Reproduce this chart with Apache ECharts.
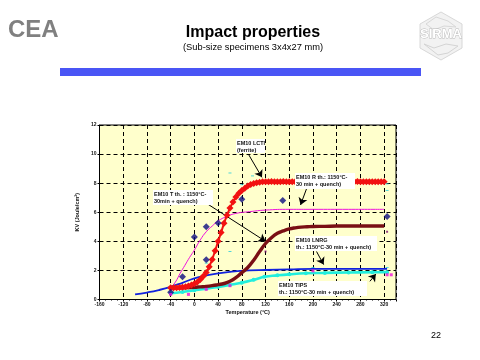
<!DOCTYPE html>
<html><head><meta charset="utf-8">
<style>html,body{margin:0;padding:0;background:#fff}#c{width:480px;height:360px}</style>
<script src="https://cdn.jsdelivr.net/npm/echarts@6/dist/echarts.min.js"></script>
</head><body><div id="c"></div>
<script>
const redT = [-40,-35,-30,-25,-20,-15,-10,-5,0,5,10,15,20,25,30,35,40,45,50,55,60,65,70,75,80,85,90,95,100,105,110,115,120,125,130,135,140,145,150,155,160,165,170,175,180,185,190,195,200,205,210,215,220,225,230,235,240,245,250,255,260,265,270,275,280,285,290,295,300,305,310,315,320];
const redV = [.8,.8,.8,.82,.85,.88,.92,1.0,1.08,1.2,1.38,1.6,1.85,2.25,2.75,3.35,4.0,4.6,5.25,5.8,6.3,6.7,7.05,7.3,7.5,7.65,7.8,7.9,7.98,8.03,8.07,8.1,8.1,8.1,8.12,8.1,8.1,8.1,8.12,8.1,8.1,8.1,8.1,8.1,8.1,8.1,8.1,8.1,8.1,8.1,8.1,8.1,8.1,8.1,8.1,8.1,8.1,8.1,8.1,8.1,8.1,8.1,8.1,8.12,8.1,8.1,8.1,8.1,8.1,8.1,8.1,8.1,8.1];
const maroonT = [-40,-30,-20,-10,0,10,20,30,40,50,60,70,80,90,100,110,120,130,140,150,160,170,180,190,200,220,240,260,280,300,320];
const maroonV = [.8,.8,.8,.82,.84,.87,.9,.95,1.02,1.1,1.25,1.5,1.85,2.2,2.7,3.3,3.85,4.25,4.55,4.72,4.85,4.93,4.98,5.0,5.02,5.03,5.05,5.05,5.05,5.05,5.05];
const magentaT = [-40,-32,-24,-16,-8,0,10,20,30,40,54,70,93,120,160,200,260,320];
const magentaV = [.8,1.2,1.8,2.35,2.9,3.4,4.1,4.66,5.05,5.4,5.7,5.92,6.04,6.15,6.2,6.2,6.2,6.2];
const blueT = [-100,-80,-60,-40,-20,0,20,40,60,93,120,160,200,260,325];
const blueV = [.35,.48,.65,.87,1.15,1.45,1.65,1.8,1.9,2.0,2.03,2.07,2.1,2.1,2.1];
const cyanT = [-40,-20,0,20,40,60,80,100,118,140,160,188,220,260,300,325];
const cyanV = [.43,.52,.64,.75,.87,1.0,1.15,1.35,1.56,1.66,1.73,1.8,1.83,1.86,1.87,1.88];
const navyT = [-40,-20,0,20,20,40,80,149,325];
const navyV = [.5,1.56,4.3,5.0,2.73,5.26,6.9,6.8,5.7];
const pinkT = [-40,-10,20,60,200,325,332];
const pinkV = [.35,.35,.7,.95,1.97,1.7,1.7];
const dashT = [60,60,20,80,98,325,325,200,325];
const dashV = [8.7,3.3,2.5,7.9,8.5,7.95,7.5,2.2,2.2];
const brownT = [120,325];
const brownV = [3.3,4.66];
const arrows = [
  [[91,10.0],[114,8.4]],
  [[189,7.6],[179,6.5]],
  [[21,6.6],[120,4.0]],
  [[206,3.3],[218,2.4]],
  [[296,1.25],[306,1.75]]
];
const noteLCTI = "EM10 LCTI\n(ferrite)";
const noteR = "EM10 R th.: 1150°C-\n30 min + quench)";
const noteT = "EM10 T th. : 1150°C-\n30min + quench)";
const noteLNRG = "EM10 LNRG\nth.: 1150°C-30 min + quench)";
const noteTIPS = "EM10 TIPS\nth.: 1150°C-30 min + quench)";
const zip = (a,b)=>a.map((x,i)=>[x,b[i]]);
const F = 'Liberation Sans';
const note = (x,y,w,h,t)=>[
  {type:'rect',z:100,silent:true,shape:{x,y,width:w,height:h},style:{fill:'#fff'}},
  {type:'text',z:101,silent:true,x:x+1,y:y+1,style:{text:t,font:'bold 5.5px "'+F+'"',fill:'#111',lineHeight:7}}
];
const chart = echarts.init(document.getElementById('c'),null,{renderer:'canvas'});
const hexPts=[[441,12],[462,24],[462,48],[441,60],[420,48],[420,24]];
chart.setOption({
  animation:false,
  backgroundColor:'#fff',
  grid:{left:99.5,right:84,top:125,bottom:60.5,show:true,backgroundColor:'#ffffcc',borderColor:'#000',borderWidth:1},
  xAxis:{type:'value',min:-160,max:340,interval:40,
    axisLine:{onZero:false,lineStyle:{color:'#000'}},
    axisTick:{length:2,lineStyle:{color:'#000'}},minorTick:{show:true,splitNumber:4,length:1,lineStyle:{color:'#000'}},
    axisLabel:{showMaxLabel:false,fontSize:5,fontWeight:'bold',color:'#111',margin:3,fontFamily:F},
    splitLine:{show:true,lineStyle:{color:'#000',type:[4,3],width:1}},minorSplitLine:{show:false},
    name:'Temperature (°C)',nameLocation:'middle',nameGap:10,nameTextStyle:{fontSize:5.5,fontWeight:'bold',color:'#111',fontFamily:F}},
  yAxis:{type:'value',min:0,max:12,interval:2,
    axisLine:{onZero:false,lineStyle:{color:'#000'}},
    axisTick:{length:2,lineStyle:{color:'#000'}},
    axisLabel:{fontSize:5,fontWeight:'bold',color:'#111',margin:3,fontFamily:F},
    splitLine:{show:true,lineStyle:{color:'#000',type:[4,3],width:1}},
    name:'KV (Joule/cm²)',nameLocation:'middle',nameGap:11,nameTextStyle:{fontSize:5.5,fontWeight:'bold',color:'#111',fontFamily:F}},
  series:[
    {type:'line',z:3,data:zip(magentaT,magentaV),smooth:true,showSymbol:false,lineStyle:{color:'#ee11dd',width:1}},
    {type:'line',z:4,data:zip(cyanT,cyanV),smooth:true,symbol:'emptyCircle',symbolSize:2,itemStyle:{color:'#22eedd'},lineStyle:{color:'#22eedd',width:2.6}},
    {type:'line',z:5,data:zip(blueT,blueV),smooth:true,showSymbol:false,lineStyle:{color:'#1122dd',width:1.8}},
    {type:'line',z:6,data:zip(maroonT,maroonV),smooth:true,showSymbol:false,lineStyle:{color:'#7a0f14',width:3.4}},
    {type:'line',z:7,data:zip(redT,redV),symbol:'diamond',symbolSize:7,itemStyle:{color:'#f21111'},lineStyle:{color:'#f21111',width:2}},
    {type:'scatter',z:8,data:zip(navyT,navyV),symbol:'diamond',symbolSize:7,itemStyle:{color:'#0c0c80'}},
    {type:'scatter',z:8,data:zip(pinkT,pinkV),symbol:'rect',symbolSize:3,itemStyle:{color:'#ee11dd'}},
    {type:'scatter',z:8,data:zip(dashT,dashV),symbol:'rect',symbolSize:[3,1],itemStyle:{color:'#22ccdd'}},
    {type:'scatter',z:8,data:zip(brownT,brownV),symbol:'rect',symbolSize:2,itemStyle:{color:'#7a0f70'}},
    {type:'line',z:200,data:[],markLine:{silent:true,animation:false,symbol:['none','arrow'],symbolSize:7,label:{show:false},
      lineStyle:{color:'#000',type:'solid',width:1},
      data:arrows.map(a=>[{coord:a[0]},{coord:a[1]}])}}
  ],
  graphic:[
    {type:'text',x:8,y:18,style:{text:'CEA',font:'bold 24px "'+F+'"',fill:'#808080'}},
    {type:'text',x:253,y:25,style:{text:'Impact properties',font:'bold 16px "'+F+'"',fill:'#000',textAlign:'center'}},
    {type:'text',x:253,y:43,style:{text:'(Sub-size specimens 3x4x27 mm)',font:'9.3px "'+F+'"',fill:'#000',textAlign:'center'}},
    {type:'rect',shape:{x:60,y:68,width:361,height:8},style:{fill:'#4a55f5'}},
    {type:'polygon',shape:{points:hexPts},style:{fill:'#f2f2f2',stroke:'#d8d8d8',lineWidth:1}},
    {type:'polyline',shape:{points:[[426,24],[436,17],[448,21],[456,27],[444,26],[434,30],[426,24]]},style:{fill:'none',stroke:'#d8d8d8',lineWidth:1}},
    {type:'polyline',shape:{points:[[424,44],[434,48],[446,44],[458,46],[448,53],[438,55],[424,44]]},style:{fill:'none',stroke:'#d4d4d4',lineWidth:1}},
    {type:'text',x:441,y:28,style:{text:'SIRMA',font:'bold 13px "'+F+'"',fill:'#fff',stroke:'#b8b8b8',lineWidth:.8,textAlign:'center'}},
    {type:'text',x:431,y:331,style:{text:'22',font:'9px "'+F+'"',fill:'#000'}},
    ...note(236,139,29,14,noteLCTI),
    ...note(295,173,60,16,noteR),
    ...note(153,190,60,15,noteT),
    ...note(295,236,82,15,noteLNRG),
    ...note(278,281,89,15,noteTIPS)
  ]
});
</script></body></html>
